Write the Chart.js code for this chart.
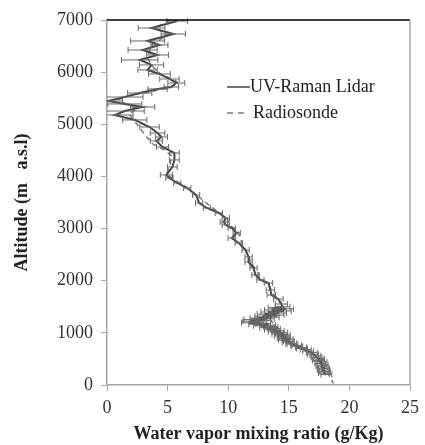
<!DOCTYPE html>
<html><head><meta charset="utf-8">
<script src="https://cdn.jsdelivr.net/npm/chart.js@4/dist/chart.umd.min.js"></script>
<style>html,body{margin:0;padding:0;background:#fff;}#wrap{width:425px;height:445px;}</style>
</head><body><div id="wrap"><canvas id="c" width="425" height="445"></canvas></div>
<script>
// ---- data ----
const xTicks = [0, 5, 10, 15, 20, 25];
const yTicks = [0, 1000, 2000, 3000, 4000, 5000, 6000, 7000];
const seriesNames = ['UV-Raman Lidar', 'Radiosonde'];
const xTitle = 'Water vapor mixing ratio (g/Kg)';
const yTitle = 'Altitude (m   a.s.l)';

// UV-Raman Lidar: altitude (m), mixing ratio (g/kg), error half-width (g/kg)
const lidarAlt = [6980,6847,6732,6598,6521,6425,6329,6234,6138,6042,5965,5869,5792,
  5716,5677,5600,5523,5447,5390,5332,5255,5179,5083,
  4948,4833,4757,4680,4565,4450,4316,4181,4028,
  3970,3874,3778,3644,3491,3395,3299,3203,3126,3069,3011,2915,2819,2724,2589,2455,2359,2244,2110,2014,
  1956,1822,1726,1650,1554,
  1500,1480,1460,1440,1420,1400,1380,1360,1340,1320,1300,1285,1270,1255,1240,1225,1210,1195,1180,1165,1150,1135,1120,1100,
  1080,1060,1040,1020,1000,980,960,940,920,900,880,860,840,820,800,780,760,740,720,700,680,650,620,590,560,530,500,470,440,410,380,350,320,290,260,230,200];
const lidarWv = [5.80,3.68,5.47,3.35,4.33,2.94,4.17,2.70,3.68,3.35,4.33,5.15,5.72,
  5.31,4.17,2.70,1.47,0.08,1.47,2.94,1.47,0.65,2.29,
  3.51,4.17,4.49,4.08,4.58,5.56,5.56,5.39,4.90,
  5.15,5.80,6.62,7.35,7.60,8.25,9.23,9.80,9.64,9.80,10.29,10.70,10.29,10.87,11.44,11.68,11.68,12.09,12.25,12.66,
  13.32,13.48,13.56,14.13,14.38,
  14.5,13.9,14.8,13.6,14.6,13.3,14.2,13.0,14.0,12.8,13.6,12.4,13.2,11.9,12.9,11.8,12.6,11.7,12.9,12.3,13.3,12.7,13.5,13.2,
  13.8,13.5,14.1,13.8,14.4,14.1,14.6,14.3,14.7,14.5,14.9,14.6,15.0,14.9,15.2,15.3,15.6,15.7,16.0,16.1,16.4,16.6,16.9,17.0,17.2,17.3,17.5,17.4,17.7,17.6,17.8,17.7,17.9,17.8,18.0,17.9,18.1];
const lidarErr = [0.85,1.1,1.0,1.4,0.7,1.2,0.9,1.5,1.0,0.8,0.9,0.8,0.7,
  0.6,0.8,1.0,1.5,1.2,1.4,1.0,1.6,1.5,1.0,
  0.8,0.6,0.5,0.5,0.5,0.4,0.4,0.4,0.5,
  0.3,0.3,0.3,0.3,0.3,0.3,0.3,0.3,0.3,0.3,0.3,0.3,0.3,0.3,0.3,0.3,0.3,0.3,0.3,0.3,
  0.35,0.35,0.35,0.4,0.5,
  0.6,0.6,0.6,0.6,0.6,0.6,0.6,0.6,0.6,0.6,0.6,0.6,0.6,0.6,0.6,0.6,0.6,0.6,0.6,0.6,0.6,0.6,0.6,0.6,
  0.5,0.5,0.5,0.5,0.5,0.5,0.5,0.5,0.45,0.45,0.45,0.45,0.45,0.45,0.45,0.45,0.45,0.45,0.45,0.45,0.45,0.45,0.45,0.45,0.45,0.45,0.45,0.45,0.45,0.45,0.45,0.45,0.45,0.45,0.45,0.45,0.45];

// Radiosonde: altitude (m), mixing ratio (g/kg)
const sondeAlt = [7000,6850,6700,6550,6400,6250,6100,5950,5850,5780,5700,5620,5550,5480,5400,5300,5200,5050,4900,4750,4620,4500,4400,4200,4050,3900,3750,3600,3450,3300,3200,3050,2950,2800,2650,2500,2350,2200,2050,1900,1750,1600,1450,1350,1250,1150,1050,950,850,750,650,550,450,300,200,100,30];
const sondeWv = [5.2,4.0,5.0,3.8,3.5,3.4,3.8,4.5,5.6,5.9,5.0,3.5,1.8,1.0,1.5,2.5,1.8,2.3,2.8,3.3,3.8,4.8,5.3,5.2,4.9,5.8,6.8,7.6,8.4,9.3,9.9,10.2,10.8,11.0,11.3,11.6,11.9,12.3,12.7,13.4,13.7,14.3,14.6,14.2,13.5,13.8,14.3,14.6,15.0,15.6,16.5,17.3,17.9,18.0,18.3,18.5,18.7];

const lidarPts = lidarAlt.map((a, i) => ({x: lidarWv[i], y: a, e: lidarErr[i]}));
const sondePts = sondeAlt.map((a, i) => ({x: sondeWv[i], y: a}));

const SERIF = "'Liberation Serif','Times New Roman',serif";
const AXIS_GRAY = '#a6a6a6';

const errorBars = {
  id: 'errorBars',
  afterDatasetsDraw(chart) {
    const {ctx, chartArea: ca, scales: {x, y}} = chart;
    ctx.save();
    ctx.beginPath(); ctx.rect(ca.left, ca.top - 2, ca.right - ca.left, ca.bottom - ca.top + 4); ctx.clip();
    ctx.strokeStyle = '#6a6a6a'; ctx.lineWidth = 1;
    lidarPts.forEach(p => {
      const py = y.getPixelForValue(p.y);
      const x1 = x.getPixelForValue(p.x - p.e), x2 = x.getPixelForValue(p.x + p.e);
      ctx.beginPath();
      ctx.moveTo(x1, py); ctx.lineTo(x2, py);
      ctx.moveTo(x1, py - 3); ctx.lineTo(x1, py + 3);
      ctx.moveTo(x2, py - 3); ctx.lineTo(x2, py + 3);
      ctx.stroke();
    });
    ctx.restore();
  }
};

const frameAndLegend = {
  id: 'frameAndLegend',
  afterDraw(chart) {
    const {ctx, chartArea: ca} = chart;
    ctx.save();
    ctx.strokeStyle = '#000'; ctx.lineWidth = 1.5;
    ctx.beginPath(); ctx.moveTo(ca.left, ca.top); ctx.lineTo(ca.right, ca.top); ctx.stroke();
    ctx.strokeStyle = AXIS_GRAY; ctx.lineWidth = 1.5;
    ctx.beginPath(); ctx.moveTo(ca.right, ca.top); ctx.lineTo(ca.right, ca.bottom); ctx.stroke();
    const ds = chart.data.datasets;
    ctx.font = "18px " + SERIF; ctx.fillStyle = '#222'; ctx.textBaseline = 'middle';
    ctx.strokeStyle = ds[0].borderColor; ctx.lineWidth = 1.5; ctx.setLineDash([]);
    ctx.beginPath(); ctx.moveTo(227, 87); ctx.lineTo(250, 87); ctx.stroke();
    ctx.fillText(ds[0].label, 250, 87);
    ctx.strokeStyle = ds[1].borderColor; ctx.setLineDash([6, 5]);
    ctx.beginPath(); ctx.moveTo(227, 113); ctx.lineTo(244, 113); ctx.stroke();
    ctx.setLineDash([]);
    ctx.fillText(ds[1].label, 253, 113);
    ctx.restore();
  }
};

new Chart(document.getElementById('c'), {
  type: 'scatter',
  data: {
    datasets: [
      {label: seriesNames[0], data: lidarPts, showLine: true, borderColor: '#454545', borderWidth: 2, pointRadius: 0, tension: 0, order: 1},
      {label: seriesNames[1], data: sondePts, showLine: true, borderColor: '#7a7a7a', borderWidth: 1.5, borderDash: [5, 4], pointRadius: 0, tension: 0, order: 2}
    ]
  },
  options: {
    responsive: false, animation: false, devicePixelRatio: 1,
    layout: {padding: {left: 0, right: 12, top: 20, bottom: 0}},
    plugins: {legend: {display: false}, tooltip: {enabled: false}},
    scales: {
      x: {
        type: 'linear', min: 0, max: 25,
        afterBuildTicks: s => { s.ticks = xTicks.map(v => ({value: v})); },
        afterFit: s => { s.height = 60; },
        ticks: {font: {family: SERIF, size: 18}, color: '#333', padding: 6, maxRotation: 0, callback: v => String(v)},
        grid: {drawOnChartArea: false, drawTicks: true, tickLength: 6, color: AXIS_GRAY, lineWidth: 1},
        border: {color: AXIS_GRAY, width: 1.5},
        title: {display: true, text: xTitle, font: {family: SERIF, size: 18, weight: 'bold'}, color: '#222', padding: {top: 0, bottom: 0}}
      },
      y: {
        type: 'linear', min: 0, max: 7000,
        afterBuildTicks: s => { s.ticks = yTicks.map(v => ({value: v})); },
        afterFit: s => { s.width = 107; },
        ticks: {font: {family: SERIF, size: 18}, color: '#333', padding: 8, callback: v => String(v)},
        grid: {drawOnChartArea: false, drawTicks: true, tickLength: 6, color: AXIS_GRAY, lineWidth: 1},
        border: {color: AXIS_GRAY, width: 1.5},
        title: {display: true, text: yTitle, font: {family: SERIF, size: 18, weight: 'bold'}, color: '#222', padding: {top: 12, bottom: 0}}
      }
    }
  },
  plugins: [errorBars, frameAndLegend]
});
</script></body></html>
